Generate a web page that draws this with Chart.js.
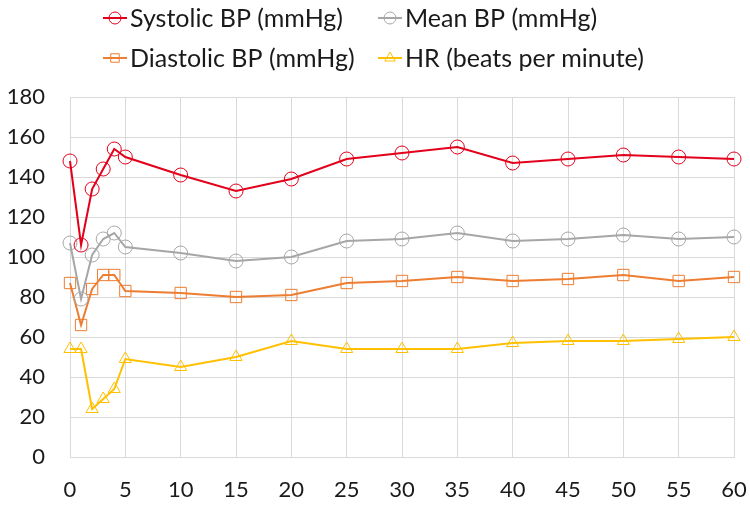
<!DOCTYPE html>
<html>
<head>
<meta charset="utf-8">
<script src="https://cdn.jsdelivr.net/npm/chart.js@4/dist/chart.umd.min.js"></script>
<style>
  html, body { margin: 0; padding: 0; background: #fff; }
  #wrap { width: 750px; height: 505px; }
</style>
</head>
<body>
<div id="wrap"><canvas id="myChart"></canvas></div>
<script>
// minutes after start
var minutes = [0, 1, 2, 3, 4, 5, 10, 15, 20, 25, 30, 35, 40, 45, 50, 55, 60];
var systolic = [148, 106, 134, 144, 154, 150, 141, 133, 139, 149, 152, 155, 147, 149, 151, 150, 149];
var meanBP = [107, 79, 101, 109, 112, 105, 102, 98, 100, 108, 109, 112, 108, 109, 111, 109, 110];
var diastolic = [87, 66, 84, 91, 91, 83, 82, 80, 81, 87, 88, 90, 88, 89, 91, 88, 90];
var heartRate = [54, 54, 24, 29, 34, 49, 45, 50, 58, 54, 54, 54, 57, 58, 58, 59, 60];

var seriesNames = ["Systolic BP (mmHg)", "Mean BP (mmHg)", "Diastolic BP (mmHg)", "HR (beats per minute)"];
var seriesColors = ["#e3001b", "#a6a6a6", "#ed7d31", "#ffc000"];
var seriesStyles = ["circle", "circle", "rect", "triangle"];
var seriesValues = [systolic, meanBP, diastolic, heartRate];

function toPoints(vals) {
  var pts = [];
  for (var i = 0; i < minutes.length; i++) {
    pts.push({x: minutes[i], y: vals[i]});
  }
  return pts;
}

var datasets = [];
for (var s = 0; s < seriesNames.length; s++) {
  datasets.push({
    label: seriesNames[s],
    data: toPoints(seriesValues[s]),
    borderColor: seriesColors[s],
    backgroundColor: 'rgba(0,0,0,0)',
    borderWidth: 2,
    pointStyle: seriesStyles[s],
    pointRadius: seriesStyles[s] == "rect" ? 8 : 7,
    pointBorderWidth: 1,
    pointBorderColor: seriesColors[s],
    pointBackgroundColor: 'rgba(0,0,0,0)',
    tension: 0,
    clip: false
  });
}

// legend drawn in two rows of two, line with marker through it
var legendPlugin = {
  id: 'twoRowLegend',
  afterDraw: function(chart) {
    var ctx = chart.ctx;
    var cols = [103, 378];
    var rows = [18, 58];
    ctx.save();
    ctx.textBaseline = 'middle';
    for (var i = 0; i < seriesNames.length; i++) {
      var x0 = cols[i % 2];
      var y0 = rows[Math.floor(i / 2)];
      ctx.strokeStyle = seriesColors[i];
      ctx.fillStyle = 'rgba(0,0,0,0)';
      ctx.lineWidth = 2;
      ctx.beginPath();
      ctx.moveTo(x0, y0);
      ctx.lineTo(x0 + 24, y0);
      ctx.stroke();
      ctx.lineWidth = 1;
      Chart.helpers.drawPoint(ctx, {
        pointStyle: seriesStyles[i],
        radius: 6,
        borderWidth: 1,
        rotation: 0
      }, x0 + 12, y0);
      ctx.font = '25px Lato';
      ctx.fillStyle = '#1a1a1a';
      ctx.fillText(seriesNames[i], x0 + 27, y0 + 1);
    }
    ctx.restore();
  }
};

var ctx = document.getElementById("myChart");
var myChart = new Chart(ctx, {
  type: 'line',
  data: { datasets: datasets },
  plugins: [legendPlugin],
  options: {
    responsive: true,
    maintainAspectRatio: false,
    animation: false,
    layout: { padding: { top: 97, right: 16, left: 0, bottom: 0 } },
    plugins: {
      legend: { display: false },
      tooltip: { enabled: false }
    },
    scales: {
      x: {
        type: 'linear',
        min: 0,
        max: 60,
        ticks: { stepSize: 5, color: '#1a1a1a', font: { family: 'Lato', size: 22 }, padding: 20 },
        grid: { color: '#d9d9d9', drawTicks: false },
        border: { color: '#d9d9d9' },
        afterFit: function(scale) {
          scale.height = 48;
          scale.paddingRight = 0;
          scale.paddingLeft = 0;
        }
      },
      y: {
        min: 0,
        max: 180,
        ticks: { stepSize: 20, color: '#1a1a1a', font: { family: 'Lato', size: 22 }, padding: 25 },
        grid: { color: '#d9d9d9', drawTicks: false },
        border: { display: false },
        afterFit: function(scale) { scale.width = 70; }
      }
    }
  }
});
</script>
</body>
</html>
